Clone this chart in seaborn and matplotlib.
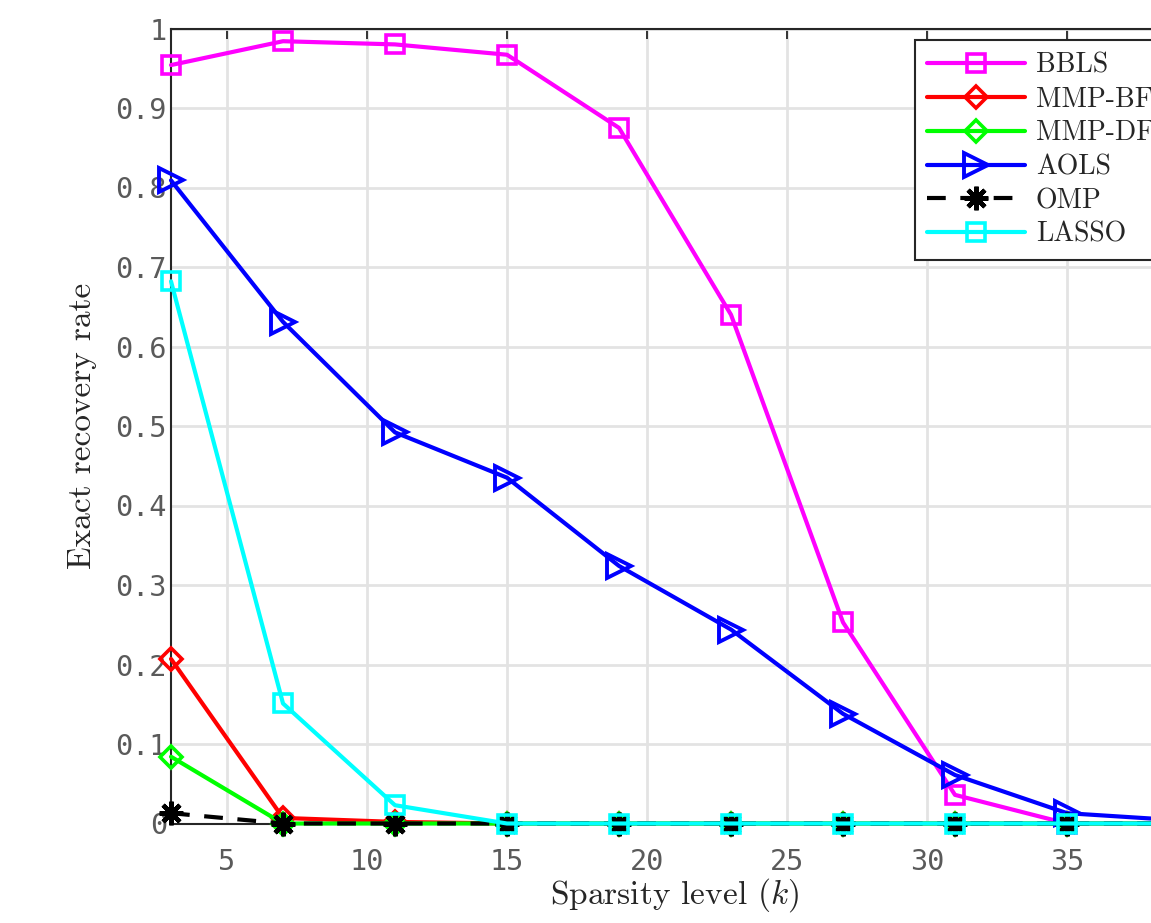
import numpy as np
import pandas as pd
import matplotlib
matplotlib.use("Agg")
import matplotlib.pyplot as plt
import seaborn as sns

# ---- data ----
sparsity = [3, 7, 11, 15, 19, 23, 27, 31, 35, 39]
bbls   = [0.954, 0.984, 0.980, 0.967, 0.875, 0.640, 0.253, 0.036, 0.0, 0.0]
mmp_bf = [0.207, 0.007, 0.002, 0.0, 0.0, 0.0, 0.0, 0.0, 0.0, 0.0]
mmp_df = [0.084, 0.0, 0.0, 0.0, 0.0, 0.0, 0.0, 0.0, 0.0, 0.0]
aols   = [0.809, 0.631, 0.492, 0.435, 0.324, 0.244, 0.138, 0.061, 0.013, 0.004]
omp    = [0.013, 0.0, 0.0, 0.0, 0.0, 0.0, 0.0, 0.0, 0.0, 0.0]
lasso  = [0.682, 0.151, 0.023, 0.0, 0.0, 0.0, 0.0, 0.0, 0.0, 0.0]
series_names = ["BBLS", "MMP-BF", "MMP-DF", "AOLS", "OMP", "LASSO"]
x_ticks = [5, 10, 15, 20, 25, 30, 35]
y_ticks = [0, 0.1, 0.2, 0.3, 0.4, 0.5, 0.6, 0.7, 0.8, 0.9, 1]
y_ticklabels = ["0", "0.1", "0.2", "0.3", "0.4", "0.5", "0.6", "0.7", "0.8", "0.9", "1"]

sns.set_style("white")
plt.rcParams["mathtext.fontset"] = "cm"
plt.rcParams["font.family"] = ["DejaVu Sans"]

fig = plt.figure(figsize=(11.51, 9.23), dpi=100)
W, H = 1151, 923
left_px, top_px, bottom_px = 171, 28.5, 823.5
axw_px = 36 * 28
ax = fig.add_axes([left_px / W, 1 - bottom_px / H, axw_px / W, (bottom_px - top_px) / H])

styles = [
    dict(color="#ff00ff", marker="s", markersize=12.5, linestyle="-", mew=2.6),
    dict(color="#ff0000", marker="D", markersize=11.5, linestyle="-", mew=2.6),
    dict(color="#00ff00", marker="D", markersize=11.5, linestyle="-", mew=2.6),
    dict(color="#0000ff", marker=">", markersize=17, linestyle="-", mew=2.8),
    dict(color="#000000", marker=(8, 2, 0), markersize=17, linestyle=(0, (4.5, 3.5)), mew=3.2),
    dict(color="#00ffff", marker="s", markersize=12.5, linestyle="-", mew=2.6),
]
datas = [bbls, mmp_bf, mmp_df, aols, omp, lasso]

for i, (name, yv, st) in enumerate(zip(series_names, datas, styles)):
    df = pd.DataFrame({"k": sparsity, "rate": yv})
    sns.lineplot(data=df, x="k", y="rate", ax=ax, color=st["color"],
                 linestyle=st["linestyle"], linewidth=3,
                 marker=st["marker"], markersize=st["markersize"],
                 markerfacecolor="none", markeredgecolor=st["color"],
                 markeredgewidth=st["mew"], clip_on=False, zorder=3 + i,
                 label=name, errorbar=None)

ax.set_xlim(3, 39)
ax.set_ylim(0, 1)
ax.set_xticks(x_ticks)
ax.set_yticks(y_ticks)
ax.set_yticklabels(y_ticklabels)
ax.grid(True, color="#e3e3e3", linewidth=2)
ax.set_axisbelow(True)
for s in ax.spines.values():
    s.set_color("#262626")
    s.set_linewidth(1.5)
ax.tick_params(axis="both", direction="in", length=7, width=1.3, colors="#262626",
               labelcolor="#5a5a5a", labelsize=20.5, top=True, right=True)
ax.tick_params(axis="x", pad=18)
ax.tick_params(axis="y", pad=3)
for lab in ax.get_xticklabels() + ax.get_yticklabels():
    lab.set_family("DejaVu Sans Mono")

ax.set_xlabel(r"Sparsity level ($k$)", family="cmr10", fontsize=24, labelpad=0)
ax.set_ylabel("Exact recovery rate", family="cmr10", fontsize=24, labelpad=13)

leg = ax.legend(loc="upper left", bbox_to_anchor=((915 - left_px) / axw_px, (bottom_px - 40) / (bottom_px - top_px)),
                borderaxespad=0, frameon=True, fancybox=False, framealpha=1,
                edgecolor="#262626", prop={"family": "cmr10", "size": 20},
                handlelength=3.5, handletextpad=0.4, labelspacing=0.27, borderpad=0.45)
leg.get_frame().set_linewidth(1.5)
leg.set_zorder(20)

fig.savefig("out.png", dpi=100)
